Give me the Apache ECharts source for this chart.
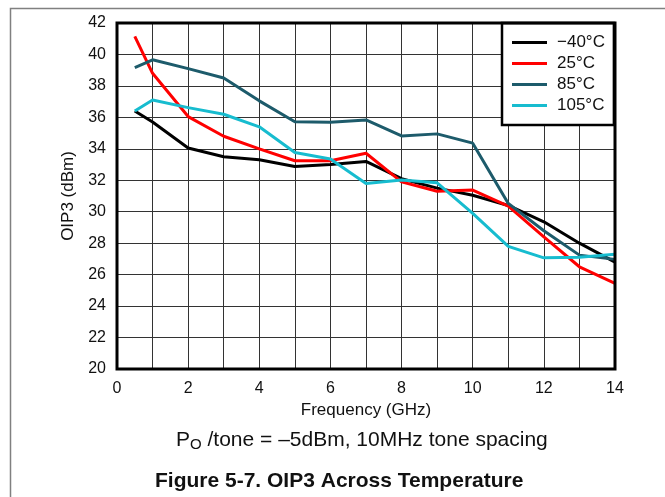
<!DOCTYPE html>
<html>
<head>
<meta charset="utf-8">
<script src="https://cdn.jsdelivr.net/npm/echarts@6/dist/echarts.min.js"></script>
<style>html,body{margin:0;padding:0;background:#fff}#c{width:665px;height:497px}</style>
</head>
<body>
<div id="c"></div>
<script>
const freq = [0.5, 1, 2, 3, 4, 5, 6, 7, 8, 9, 10, 11, 12, 13, 14];
const seriesNames = ['\u221240\u00B0C', '25\u00B0C', '85\u00B0C', '105\u00B0C'];
const oip3_m40 = [36.4, 35.7, 34.05, 33.5, 33.3, 32.87, 33.0, 33.2, 32.1, 31.5, 31.05, 30.4, 29.36, 28.0, 26.8];
const oip3_25 = [41.15, 38.8, 36.05, 34.8, 34.0, 33.24, 33.24, 33.72, 31.9, 31.3, 31.38, 30.36, 28.4, 26.5, 25.44];
const oip3_85 = [39.17, 39.66, 39.1, 38.5, 37.05, 35.72, 35.69, 35.84, 34.82, 34.95, 34.36, 30.53, 28.79, 27.24, 26.97];
const oip3_105 = [36.4, 37.1, 36.62, 36.2, 35.4, 33.77, 33.35, 31.8, 32.01, 31.84, 29.89, 27.8, 27.07, 27.1, 27.3];
const colors = ['#000000', '#ff0000', '#1d5b6b', '#17bccf'];
const allData = [oip3_m40, oip3_25, oip3_85, oip3_105];

const font = 'Liberation Sans, Arial, sans-serif';
const chart = echarts.init(document.getElementById('c'), null, {renderer: 'canvas'});
chart.setOption({
  animation: false,
  backgroundColor: '#fff',
  textStyle: {fontFamily: font},
  grid: {left: 117, top: 23, right: 50, bottom: 128, show: true, borderColor: '#000', borderWidth: 3, backgroundColor: 'transparent', z: 5},
  legend: {
    orient: 'vertical', left: 502, top: 23,
    backgroundColor: '#fff', borderColor: '#000', borderWidth: 2.5,
    padding: [11, 9, 11, 10],
    icon: 'rect',
    itemWidth: 35, itemHeight: 3, itemGap: 4,
    textStyle: {fontSize: 17, lineHeight: 14, color: '#111', fontFamily: font, padding: [0, 0, 0, 5]},
    data: seriesNames
  },
  xAxis: {
    type: 'value', min: 0, max: 14, interval: 2,
    name: 'Frequency (GHz)', nameLocation: 'middle', nameGap: 32,
    nameTextStyle: {fontSize: 17, color: '#111'},
    axisLine: {show: false}, axisTick: {show: false},
    axisLabel: {fontSize: 16, color: '#111', margin: 12},
    splitLine: {show: true, lineStyle: {color: '#333', width: 1}},
    minorTick: {show: false, splitNumber: 2},
    minorSplitLine: {show: true, lineStyle: {color: '#333', width: 1}}
  },
  yAxis: {
    type: 'value', min: 20, max: 42, interval: 2,
    name: 'OIP3 (dBm)', nameLocation: 'middle', nameGap: 40,
    nameTextStyle: {fontSize: 17, color: '#111'},
    axisLine: {show: false}, axisTick: {show: false},
    axisLabel: {fontSize: 16, color: '#111', margin: 11},
    splitLine: {show: true, lineStyle: {color: '#333', width: 1}}
  },
  series: seriesNames.map((n, i) => ({
    name: n, type: 'line', symbol: 'none', z: 3,
    lineStyle: {color: colors[i], width: 3},
    itemStyle: {color: colors[i]},
    data: freq.map((f, j) => [f, allData[i][j]])
  })),
  graphic: [
    {type: 'rect', left: 8, top: 6, shape: {x: 0, y: 0, width: 700, height: 600}, style: {fill: 'none', stroke: '#808080', lineWidth: 1.5}, silent: true},
    {type: 'text', left: 176, top: 430, style: {
      text: '{n|P}{s|O}{n| /tone = \u20135dBm, 10MHz tone spacing}',
      rich: {n: {fontSize: 21, fontFamily: font, fill: '#111'}, s: {fontSize: 15, fontFamily: font, fill: '#111', verticalAlign: 'bottom', padding: [8, 0, 0, 0]}}
    }},
    {type: 'text', left: 155, top: 471, style: {text: 'Figure 5-7. OIP3 Across Temperature', fontSize: 21, fontWeight: 'bold', fontFamily: font, fill: '#111'}}
  ]
});
</script>
</body>
</html>
